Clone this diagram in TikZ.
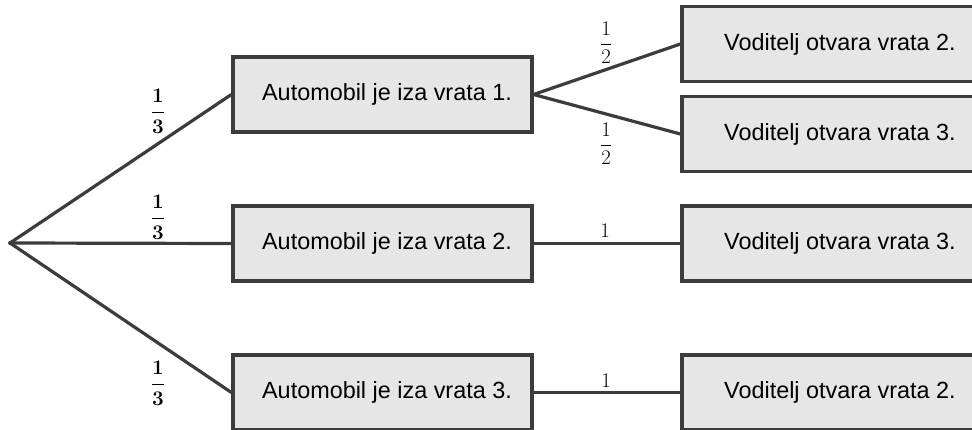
\documentclass[tikz,border=0pt]{standalone}
\usepackage{fontspec}
\usepackage{amsmath}
\newfontfamily\arialfont{Liberation Sans}
\definecolor{edgegray}{HTML}{3C3C3C}
\definecolor{boxfill}{HTML}{E6E6E6}
\newcommand{\bthird}{{\boldmath$\dfrac{1}{3}$}}
\begin{document}
\begin{tikzpicture}[x=1pt,y=-1pt,
  box/.style={draw=edgegray,line width=3.2pt,fill=boxfill,minimum height=75pt,inner sep=0pt,
    font=\arialfont\fontsize{23.4}{28}\selectfont},
  lbox/.style={box,minimum width=299pt},
  rbox/.style={box,minimum width=316pt},
  conn/.style={draw=edgegray,line width=3.2pt},
  problabel/.style={font=\fontsize{20.5}{24}\selectfont,inner sep=0pt}]
\clip (0,0) rectangle (972,430);
\fill[white] (0,0) rectangle (972,430);
\coordinate (root) at (10,243);
\node[lbox] (b1) at (382.5,94.5) {\hspace*{9pt}Automobil je iza vrata 1.};
\node[lbox] (b2) at (382.5,243.5) {\hspace*{9pt}Automobil je iza vrata 2.};
\node[lbox] (b3) at (382.5,392.5) {\hspace*{9pt}Automobil je iza vrata 3.};
\node[rbox] (r1) at (840,44) {Voditelj otvara vrata 2.};
\node[rbox] (r2) at (840,134) {Voditelj otvara vrata 3.};
\node[rbox] (r3) at (840,243.5) {Voditelj otvara vrata 3.};
\node[rbox] (r4) at (840,392.5) {Voditelj otvara vrata 2.};
\draw[conn] (root) -- (b1.west);
\draw[conn] (root) -- (b2.west);
\draw[conn] (root) -- (b3.west);
\draw[conn] (b1.east) -- (r1.west);
\draw[conn] (b1.east) -- (r2.west);
\draw[conn] (b2.east) -- (r3.west);
\draw[conn] (b3.east) -- (r4.west);
\fill[edgegray] (root) circle (2pt);
\node[problabel] (p1) at (158,111) {\bthird};
\node[problabel] (p2) at (158,217) {\bthird};
\node[problabel] (p3) at (158,383) {\bthird};
\node[problabel] (q1) at (606,43) {$\dfrac{1}{2}$};
\node[problabel] (q2) at (606,144) {$\dfrac{1}{2}$};
\node[problabel] (q3) at (605,231) {$1$};
\node[problabel] (q4) at (606,381) {$1$};
\end{tikzpicture}
\end{document}
